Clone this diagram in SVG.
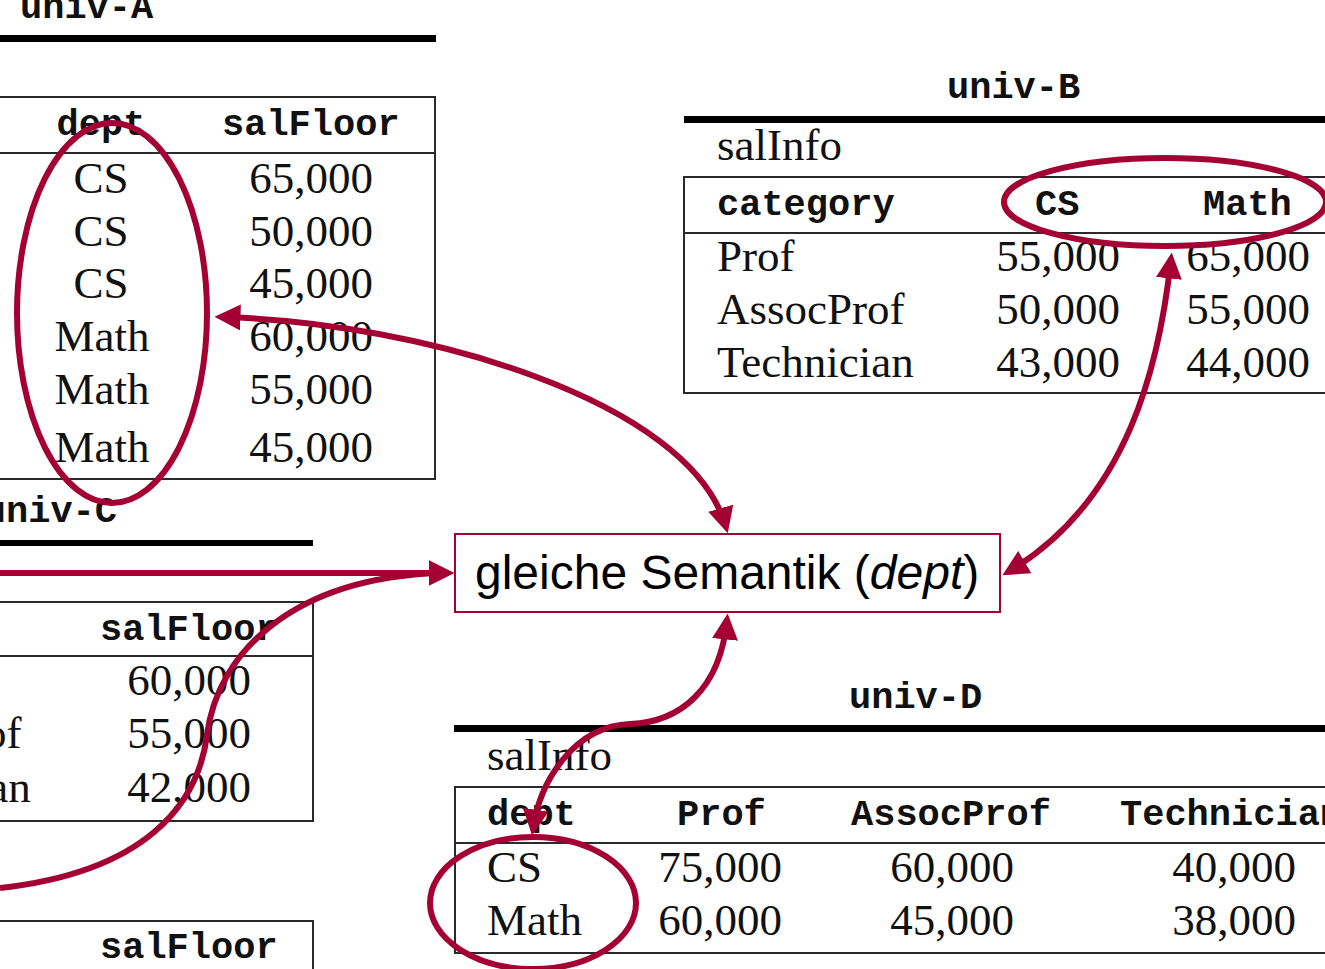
<svg xmlns="http://www.w3.org/2000/svg" width="1325" height="969" viewBox="0 0 1325 969">
  <style>
    .tt { font-family: "Liberation Mono", "DejaVu Sans Mono", monospace; font-weight: bold; font-size: 37px; fill: #111; }
    .rm { font-family: "Liberation Serif", "DejaVu Serif", serif; font-size: 45px; fill: #111; }
    .rule { fill: #000; }
    .tbl { fill: none; stroke: #2a2a2a; stroke-width: 2; }
    .hl { fill: none; stroke: #a50034; stroke-width: 6; }
    .conn { fill: none; stroke: #a50034; stroke-width: 6; }
    .lbl { font-family: "Liberation Sans", Arial, sans-serif; font-size: 48px; fill: #000; }
    .e { text-anchor: end; }
    .m { text-anchor: middle; }
  </style>
  <defs>
    <marker id="head" markerUnits="userSpaceOnUse" markerWidth="26" markerHeight="26" viewBox="0 0 24 24" refX="18" refY="12" orient="auto-start-reverse">
      <path d="M0,0 L24,12 L0,24 z" fill="#a50034"/>
    </marker>
  </defs>
  <rect width="1325" height="969" fill="#fff"/>

  <!-- univ-A -->
  <g id="univ-A">
    <text class="tt" x="20" y="18">univ-A</text>
    <rect class="rule" x="0" y="35" width="436" height="7"/>
    <path class="tbl" d="M0,97 H435 V479 H0 M0,153 H435"/>
    <text class="tt m" x="101" y="135">dept</text>
    <text class="tt" x="222" y="135">salFloor</text>
    <g class="rm">
      <text class="m" x="101" y="193">CS</text>
      <text class="m" x="101" y="246">CS</text>
      <text class="m" x="101" y="298">CS</text>
      <text class="m" x="102" y="351">Math</text>
      <text class="m" x="102" y="404">Math</text>
      <text class="m" x="102" y="462">Math</text>
      <text class="e" x="373" y="193">65,000</text>
      <text class="e" x="373" y="246">50,000</text>
      <text class="e" x="373" y="298">45,000</text>
      <text class="e" x="373" y="351">60,000</text>
      <text class="e" x="373" y="404">55,000</text>
      <text class="e" x="373" y="462">45,000</text>
    </g>
  </g>

  <!-- univ-C -->
  <g id="univ-C">
    <text class="tt e" x="117" y="522">univ-C</text>
    <rect class="rule" x="0" y="540" width="313" height="6"/>
    <path class="tbl" d="M0,602 H313 V821 H0 M0,656 H313"/>
    <text class="tt e" x="2" y="640">dept</text>
    <text class="tt" x="100" y="640">salFloor</text>
    <g class="rm">
      <text x="-166" y="695">Prof</text>
      <text x="-166" y="748">AssocProf</text>
      <text x="-166" y="802">Technician</text>
      <text class="e" x="251" y="695">60,000</text>
      <text class="e" x="251" y="748">55,000</text>
      <text class="e" x="251" y="802">42,000</text>
    </g>
  </g>

  <!-- next table (univ-E), cut at the bottom edge -->
  <g id="univ-E">
    <path class="tbl" d="M0,921 H313 V975"/>
    <text class="tt e" x="2" y="958">dept</text>
    <text class="tt" x="100" y="958">salFloor</text>
  </g>

  <!-- univ-B -->
  <g id="univ-B">
    <text class="tt" x="947" y="98">univ-B</text>
    <rect class="rule" x="684" y="116" width="660" height="7"/>
    <text class="rm" x="717" y="160">salInfo</text>
    <path class="tbl" d="M1340,177 H684 V393 H1340 M684,233 H1340"/>
    <text class="tt" x="717" y="215">category</text>
    <text class="tt" x="1035" y="215">CS</text>
    <text class="tt" x="1203" y="215">Math</text>
    <g class="rm">
      <text x="717" y="271">Prof</text>
      <text x="717" y="324">AssocProf</text>
      <text x="717" y="377">Technician</text>
      <text class="e" x="1120" y="271">55,000</text>
      <text class="e" x="1120" y="324">50,000</text>
      <text class="e" x="1120" y="377">43,000</text>
      <text class="e" x="1310" y="271">65,000</text>
      <text class="e" x="1310" y="324">55,000</text>
      <text class="e" x="1310" y="377">44,000</text>
    </g>
  </g>

  <!-- univ-D -->
  <g id="univ-D">
    <text class="tt" x="849" y="708">univ-D</text>
    <rect class="rule" x="454" y="725" width="890" height="7"/>
    <text class="rm" x="487" y="770">salInfo</text>
    <path class="tbl" d="M1340,787 H455 V953 H1340 M455,843 H1340"/>
    <text class="tt" x="487" y="825">dept</text>
    <text class="tt" x="677" y="825">Prof</text>
    <text class="tt" x="851" y="825">AssocProf</text>
    <text class="tt" x="1120" y="825">Technician</text>
    <g class="rm">
      <text x="487" y="882">CS</text>
      <text x="487" y="935">Math</text>
      <text class="e" x="782" y="882">75,000</text>
      <text class="e" x="782" y="935">60,000</text>
      <text class="e" x="1014" y="882">60,000</text>
      <text class="e" x="1014" y="935">45,000</text>
      <text class="e" x="1296" y="882">40,000</text>
      <text class="e" x="1296" y="935">38,000</text>
    </g>
  </g>

  <!-- highlight rings around the dept values -->
  <g id="rings">
    <ellipse class="hl" cx="112" cy="313" rx="95" ry="190"/>
    <ellipse class="hl" cx="1165" cy="202" rx="161" ry="44"/>
    <ellipse class="hl" cx="533" cy="903" rx="103" ry="66"/>
  </g>

  <!-- central label -->
  <g id="semantik">
    <rect x="455" y="534" width="545" height="78" fill="#fff" stroke="#a50034" stroke-width="2"/>
    <text class="lbl" x="475" y="589">gleiche Semantik (<tspan font-style="italic">dept</tspan>)</text>
  </g>

  <!-- connectors -->
  <g id="connectors">
    <path class="conn" d="M221,317 C420,322 690,400 726,527" marker-start="url(#head)" marker-end="url(#head)"/>
    <path class="conn" d="M1171,259 C1160,360 1130,500 1008,572" marker-start="url(#head)" marker-end="url(#head)"/>
    <path class="conn" d="M0,573 L448,573" marker-end="url(#head)"/>
    <path class="conn" d="M0,888 C145,872 198,805 207,735 C217,655 290,578 440,573"/>
    <path class="conn" d="M727,620 C720,690 680,722 630,724 C575,726 540,780 533,829" marker-start="url(#head)" marker-end="url(#head)"/>
  </g>
</svg>
